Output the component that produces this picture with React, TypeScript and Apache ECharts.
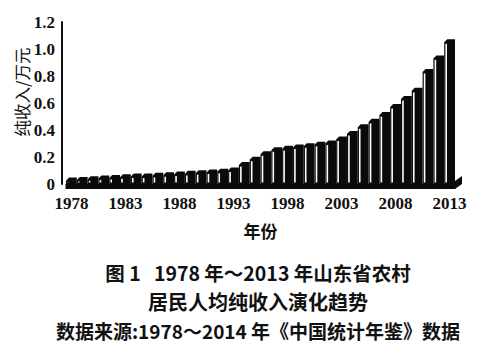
import React, { useEffect, useRef } from "react";
import * as echarts from "echarts";

const years: string[] = [];
for (let y = 1978; y <= 2013; y++) years.push(String(y));

const income: number[] = [
  0.025, 0.03, 0.035, 0.04, 0.045, 0.05, 0.055, 0.055, 0.06, 0.065,
  0.07, 0.075, 0.08, 0.085, 0.09, 0.1, 0.14, 0.18, 0.22, 0.25,
  0.26, 0.27, 0.28, 0.29, 0.3, 0.33, 0.37, 0.42, 0.46, 0.51,
  0.57, 0.63, 0.69, 0.83, 0.93, 1.05,
];

const yTicks = { min: 0, max: 1.2, interval: 0.2 };
const yName = "纯收入/万元";
const xName = "年份";
const captions = [
  "图 1   1978 年～2013 年山东省农村",
  "居民人均纯收入演化趋势",
  "数据来源:1978～2014 年《中国统计年鉴》数据",
];
const captionSizes = [19.5, 20, 19];

export default function App() {
  const ref = useRef<HTMLDivElement>(null);
  useEffect(() => {
    if (!ref.current) return;
    const chart = echarts.init(ref.current, null, { renderer: "svg" });
    const digitFont = "'Liberation Serif', 'DejaVu Serif', serif";
    const cjkFont = "'Noto Sans CJK SC', sans-serif";
    chart.setOption({
      animation: false,
      backgroundColor: "#fff",
      grid: { left: 66, right: 46, top: 22, bottom: 171 },
      xAxis: {
        type: "category",
        data: years,
        boundaryGap: true,
        axisLine: { show: false },
        axisTick: { show: false },
        axisLabel: {
          interval: 4,
          margin: 11,
          fontFamily: digitFont,
          fontWeight: "bold",
          fontSize: 17,
          color: "#111",
        },
        name: xName,
        nameLocation: "middle",
        nameGap: 38,
        nameTextStyle: { fontFamily: cjkFont, fontWeight: "bold", fontSize: 17, color: "#111" },
      },
      yAxis: {
        type: "value",
        min: yTicks.min,
        max: yTicks.max,
        interval: yTicks.interval,
        offset: 4,
        axisLine: { show: true, lineStyle: { color: "#111", width: 2 } },
        axisTick: { show: false },
        splitLine: { show: false },
        axisLabel: {
          margin: 7,
          fontFamily: digitFont,
          fontWeight: "bold",
          fontSize: 17,
          color: "#111",
          formatter: (v: number) => (v === 0 ? "0" : v.toFixed(1)),
        },
      },
      graphic: [
        {
          type: "text",
          x: 22,
          y: 92,
          rotation: Math.PI / 2,
          style: {
            text: yName,
            fontFamily: cjkFont,
            fontSize: 16.5,
            fill: "#111",
            align: "center",
            verticalAlign: "middle",
          },
        },
        ...captions.map((t, i) => ({
          type: "text",
          x: 258,
          y: 272 + i * 29,
          style: {
            text: t,
            fontFamily: cjkFont,
            fontWeight: "bold",
            fontSize: captionSizes[i],
            fill: "#111",
            align: "center",
            verticalAlign: "middle",
          },
        })),
      ],
      series: [
        {
          type: "custom",
          data: income.map((v, i) => [i, v]),
          renderItem: (params: any, api: any) => {
            const idx = api.value(0);
            const v = api.value(1);
            const top = api.coord([idx, v]);
            const base = api.coord([idx, 0]);
            const bw = api.size([1, 0])[0];
            const d = bw * 0.28;
            const w = bw - d;
            const x0 = top[0] - bw / 2;
            const ty = top[1];
            const by = base[1];
            const stripeH = Math.max(0, by - ty - 3);
            const last = idx === income.length - 1;
            const children: any[] = [
              {
                type: "polygon",
                shape: {
                  points: [
                    [x0, by + 5],
                    [x0, ty],
                    [x0 + d, ty - d],
                    [x0 + w + d, ty - d],
                    [x0 + w + d, by],
                    [x0 + bw, by + 5],
                  ],
                },
                style: { fill: "#0a0a0a" },
              },
              {
                type: "rect",
                shape: { x: x0 - 0.5, y: by, width: bw + 1, height: 5 },
                style: { fill: "#0a0a0a" },
              },
              {
                type: "rect",
                shape: { x: x0 + 1.2, y: ty + 1.5, width: 1.6, height: stripeH },
                style: { fill: "#fff" },
              },
            ];
            if (last) {
              children.push({
                type: "polygon",
                shape: {
                  points: [
                    [x0 + bw, by - 3],
                    [x0 + bw + 7, by - 8],
                    [x0 + bw + 7, by],
                    [x0 + bw, by + 5],
                  ],
                },
                style: { fill: "#0a0a0a" },
              });
            }
            return { type: "group", children };
          },
        },
      ],
    });
    return () => chart.dispose();
  }, []);
  return (
    <div
      ref={ref}
      style={{ position: "fixed", left: 0, top: 0, width: 501, height: 355, background: "#fff" }}
    />
  );
}
